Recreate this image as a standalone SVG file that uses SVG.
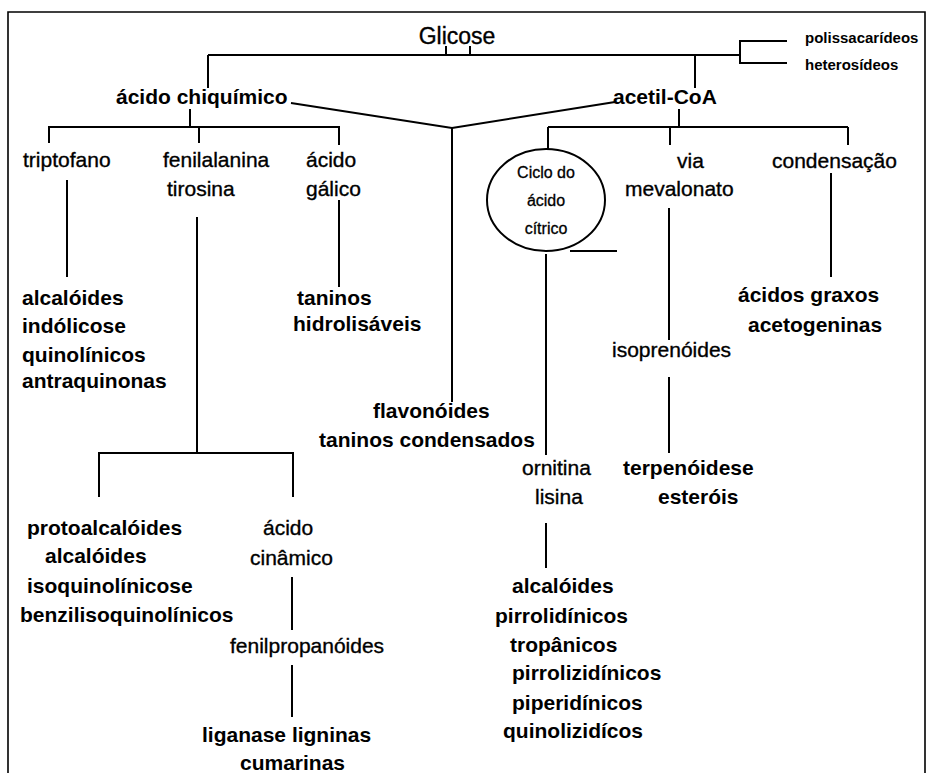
<svg xmlns="http://www.w3.org/2000/svg" width="929" height="773" viewBox="0 0 929 773">
<style>
text{font-family:"Liberation Sans",Arial,sans-serif;fill:#000}
.r{font-size:21px;stroke:#000;stroke-width:0.35}
.b{font-size:21px;font-weight:bold}
.s{font-size:15px;font-weight:bold}
.c{font-size:16px;text-anchor:middle;stroke:#000;stroke-width:0.3}
.ln{fill:none;stroke:#000;stroke-width:2}
</style>
<rect width="929" height="773" fill="#fff"/>
<path d="M8,773 V12 H925 V773" fill="none" stroke="#000" stroke-width="1.6"/>
<g id="connectors" class="ln">
<path d="M446,46 V55 M470,46 V55"/>
<path d="M208,55 H740"/>
<path d="M787,41 H740 V63 H787"/>
<path d="M208,55 V88 M695,55 V88"/>
<path d="M291,103 L452,128 L615,102"/>
<path d="M452,128 V402"/>
<path d="M190,109 V127 M49,143 V127 H339 V145 M199,127 V143"/>
<path d="M67,180 V277"/>
<path d="M197,217 V453 M99,497 V453 H293 V497"/>
<path d="M339,200 V287"/>
<path d="M292,577 V630 M292,665 V717"/>
<path d="M679,109 V127 M548,127 H848 M548,127 V149 M670,127 V145 M848,127 V145"/>
<path d="M669,208 V340 M669,377 V453"/>
<path d="M831,173 V277"/>
<path d="M570,251 H617"/>
<path d="M546,254 V455 M546,523 V568"/>
</g>
<g id="glicose"><text x="457" y="44" font-size="23" text-anchor="middle" stroke="#000" stroke-width="0.35">Glicose</text></g>
<g id="polissacarideos"><text class="s" x="805" y="43">polissacarídeos</text></g>
<g id="heterosideos"><text class="s" x="805" y="70">heterosídeos</text></g>
<g id="acido-chiquimico"><text class="b" x="116" y="104">ácido chiquímico</text></g>
<g id="acetil-coa"><text class="b" x="613" y="104">acetil-CoA</text></g>
<g id="triptofano"><text class="r" x="23" y="167">triptofano</text></g>
<g id="fenilalanina"><text class="r" x="163" y="167">fenilalanina</text><text class="r" x="167" y="196">tirosina</text></g>
<g id="acido-galico"><text class="r" x="306" y="167">ácido</text><text class="r" x="306" y="196">gálico</text></g>
<g id="ciclo"><ellipse cx="546" cy="200" rx="59" ry="51" class="ln"/><text class="c" x="546" y="178">Ciclo do</text><text class="c" x="546" y="206">ácido</text><text class="c" x="546" y="234">cítrico</text></g>
<g id="via-mevalonato"><text class="r" x="677" y="168">via</text><text class="r" x="625" y="196">mevalonato</text></g>
<g id="condensacao"><text class="r" x="772" y="168">condensação</text></g>
<g id="alcaloides-indolicos"><text class="b" x="22" y="305">alcalóides</text><text class="b" x="22" y="333">indólicose</text><text class="b" x="22" y="362">quinolínicos</text><text class="b" x="22" y="388">antraquinonas</text></g>
<g id="taninos-hidrolisaveis"><text class="b" x="297" y="305">taninos</text><text class="b" x="293" y="331">hidrolisáveis</text></g>
<g id="acidos-graxos"><text class="b" x="738" y="302">ácidos graxos</text><text class="b" x="748" y="332">acetogeninas</text></g>
<g id="isoprenoides"><text class="r" x="612" y="357">isoprenóides</text></g>
<g id="flavonoides"><text class="b" x="373" y="418">flavonóides</text><text class="b" x="319" y="447">taninos condensados</text></g>
<g id="ornitina"><text class="r" x="522" y="475">ornitina</text><text class="r" x="535" y="504">lisina</text></g>
<g id="terpenoides"><text class="b" x="623" y="475">terpenóidese</text><text class="b" x="658" y="504">esteróis</text></g>
<g id="protoalcaloides"><text class="b" x="27" y="535">protoalcalóides</text><text class="b" x="45" y="563">alcalóides</text><text class="b" x="27" y="593">isoquinolínicose</text><text class="b" x="20" y="622">benzilisoquinolínicos</text></g>
<g id="acido-cinamico"><text class="r" x="263" y="535">ácido</text><text class="r" x="250" y="565">cinâmico</text></g>
<g id="fenilpropanoides"><text class="r" x="230" y="653">fenilpropanóides</text></g>
<g id="liganas"><text class="b" x="202" y="742">liganase ligninas</text><text class="b" x="240" y="770">cumarinas</text></g>
<g id="alcaloides-pirrolidinicos"><text class="b" x="512" y="593">alcalóides</text><text class="b" x="495" y="623">pirrolidínicos</text><text class="b" x="510" y="652">tropânicos</text><text class="b" x="512" y="680">pirrolizidínicos</text><text class="b" x="512" y="710">piperidínicos</text><text class="b" x="503" y="738">quinolizidícos</text></g>
</svg>
